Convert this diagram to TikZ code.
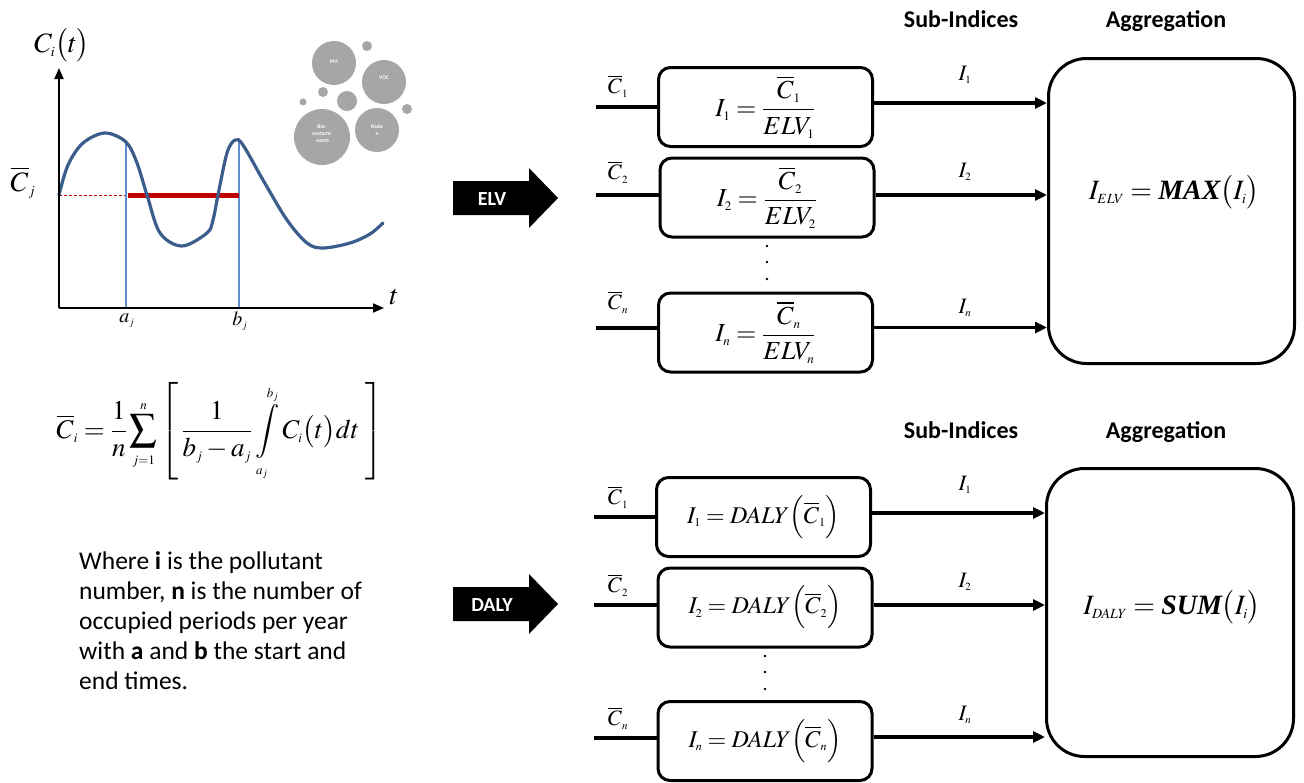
\documentclass[tikz,border=0pt]{standalone}
\usepackage{mathptmx}
\usepackage[no-math]{fontspec}
\setmainfont{Carlito}
\newfontfamily\timesfont{Liberation Serif}
\usetikzlibrary{arrows.meta}
\DeclareMathSizes{24}{24}{12}{9}
\DeclareMathSizes{22}{22}{11}{8}
\DeclareMathSizes{28}{28}{14}{10}
\DeclareMathSizes{20}{20}{10}{8}
\DeclareMathSizes{26}{26}{13}{10}
\DeclareMathSizes{27}{27}{13}{10}
\definecolor{bubgray}{RGB}{166,166,166}
\definecolor{curveblue}{RGB}{59,93,140}
\definecolor{lineblue}{RGB}{95,142,205}
\definecolor{darkred}{RGB}{192,0,0}
\newcommand{\bmaths}[1]{\mbox{\timesfont\bfseries\itshape #1}}
\tikzset{
  subbox/.style={draw, line width=3pt, rounded corners=12pt, minimum width=214pt, minimum height=79pt, inner sep=0pt},
  aggbox/.style={draw, line width=3pt, rounded corners=38pt, inner sep=0pt},
  conn/.style={line width=3.4pt},
  arr/.style={line width=3.4pt, -{Triangle[length=12pt,width=11pt]}},
  axis/.style={line width=1.8pt, -{Triangle[length=11pt,width=9pt]}},
  hdr/.style={font=\fontsize{24}{29}\selectfont\bfseries, anchor=base, inner sep=0pt},
  mth/.style={font=\fontsize{26}{30}\selectfont, inner sep=0pt},
  lbl/.style={font=\fontsize{22}{26}\selectfont, inner sep=0pt},
  big/.style={font=\fontsize{28}{32}\selectfont, inner sep=0pt},
  small/.style={font=\fontsize{20}{24}\selectfont, inner sep=0pt},
  bub/.style={fill=bubgray, draw=none},
  bubtxt/.style={font=\fontsize{5.5}{7}\selectfont\bfseries, text=white, align=center, inner sep=0pt},
  bigarrow/.style={fill=black, draw=none},
  arrtxt/.style={font=\fontsize{20}{24}\selectfont\bfseries, text=white, inner sep=0pt},
}
\begin{document}
\begin{tikzpicture}[x=1pt,y=-1pt]
\useasboundingbox (0,0) rectangle (1304,782);

% ---------- plot ----------
\coordinate (O) at (59,308);
\coordinate (Ytop) at (59,68);
\coordinate (Xend) at (384,308);
\draw[darkred, line width=0.9pt, dash pattern=on 3pt off 2pt] (59,195) -- (128,195);
\draw[lineblue, line width=1.1pt] (126,141) -- (126,308);
\draw[lineblue, line width=1.1pt] (239,141) -- (239,308);
\draw[darkred, line width=5pt] (128,195) -- (239,195);
\draw[curveblue, line width=3.2pt, line cap=round] plot[smooth, tension=0.55] coordinates {
 (59,195) (68,165) (83,143) (105,133) (126,142) (137,163) (147,195) (160,233) (182,246)
 (207,233) (213,220) (218,195) (227,153) (235,140) (243,145) (263,180) (287,220) (307,243)
 (323,248) (350,243) (370,234) (383,223)};
\draw[axis] (O) -- (Ytop);
\draw[axis] (O) -- (Xend);
\node[big] (cit) at (62,45) {$C_i\bigl(t\bigr)$};
\node[big] (cj) at (23,183) {$\overline{C}_j$};
\node[big] (tl) at (394,297) {$t$};
\node[small] (aj) at (127,321) {$a_j$};
\node[small] (bj) at (240,321) {$b_j$};

% ---------- bubbles ----------
\fill[bub] (334,63) circle (22);
\fill[bub] (384,82) circle (22);
\fill[bub] (322,137) circle (28);
\fill[bub] (377,130) circle (22);
\fill[bub] (367,46) circle (5);
\fill[bub] (323,92) circle (5);
\fill[bub] (347,101) circle (10);
\fill[bub] (303,102) circle (3.5);
\fill[bub] (407,109) circle (5);
\node[bubtxt] (pm) at (334,62) {PM};
\node[bubtxt] (voc) at (384,78) {VOC};
\node[bubtxt] (bio) at (322,134) {Bio-\\contami-\\-nants};
\node[bubtxt] (rad) at (377,130) {Rado\\n};

% ---------- formula ----------
\node[font=\fontsize{27}{31}\selectfont, inner sep=0pt] (cbar) at (220,432) {$\displaystyle \overline{C}_i = \frac{1}{n}\sum_{j=1}^{n}\left[\,\frac{1}{b_j-a_j}\int\limits_{a_j}^{b_j} C_i\bigl(t\bigr)dt\;\right]$};

\node[font=\fontsize{25.5}{30}\selectfont, align=left, anchor=north west, inner sep=0pt] (where) at (79,551)
 {Where \textbf{i} is the pollutant\\number, \textbf{n} is the number of\\occupied periods per year\\with \textbf{a} and \textbf{b} the start and\\end times.};

% ---------- big arrows ----------
\fill[bigarrow] (453,181) -- (529,181) -- (529,168) -- (558,198) -- (529,228) -- (529,215) -- (453,215) -- cycle;
\node[arrtxt] (elv) at (492,199) {ELV};
\fill[bigarrow] (453,587) -- (529,587) -- (529,574) -- (558,604) -- (529,634) -- (529,621) -- (453,621) -- cycle;
\node[arrtxt] (daly) at (492,605) {DALY};

% ---------- headers ----------
\node[hdr] (h1) at (961,27) {Sub-Indices};
\node[hdr] (h2) at (1166,27) {Aggregation};
\node[hdr] (h3) at (961,438) {Sub-Indices};
\node[hdr] (h4) at (1166,438) {Aggregation};

% ---------- top block ----------
\node[subbox] (b1) at (765.5,107) {};
\node[subbox] (b2) at (767,197.5) {};
\node[subbox] (bn) at (765.5,332.5) {};
\node[mth] (b1t) at (765.5,107) {$\displaystyle I_1 = \frac{\overline{C}_1}{ELV_1}$};
\node[mth] (b2t) at (767,197.5) {$\displaystyle I_2 = \frac{\overline{C}_2}{ELV_2}$};
\node[mth] (bnt) at (765.5,332.5) {$\displaystyle I_n = \frac{\overline{C}_n}{ELV_n}$};
\node[aggbox, minimum width=246pt, minimum height=305pt] (ag1) at (1171.5,211) {};
\node[font=\fontsize{28}{32}\selectfont, inner sep=0pt] (ag1t) at (1174,192) {$I_{ELV} = \bmaths{MAX}\bigl(I_i\bigr)$};

\coordinate (i1) at (596,107);
\coordinate (i2) at (596,195);
\coordinate (in) at (596,328);
\draw[conn] (i1) -- (i1 -| b1.west);
\draw[conn] (i2) -- (i2 -| b2.west);
\draw[conn] (in) -- (in -| bn.west);
\draw[arr] ([yshift=4pt]b1.east) -- ([yshift=4pt]b1.east -| ag1.west);
\draw[arr] ([yshift=2.5pt]b2.east) -- ([yshift=2.5pt]b2.east -| ag1.west);
\draw[arr] ([yshift=5pt]bn.east) -- ([yshift=5pt]bn.east -| ag1.west);
\node[lbl] (c1) at (618,86) {$\overline{C}_1$};
\node[lbl] (c2) at (618,172) {$\overline{C}_2$};
\node[lbl] (cn) at (618,302) {$\overline{C}_n$};
\node[lbl] (o1) at (965,75) {$I_1$};
\node[lbl] (o2) at (965,172) {$I_2$};
\node[lbl] (on) at (965,308) {$I_n$};
\fill (767,246) circle (1.4) (767,262) circle (1.4) (767,279) circle (1.4);

% ---------- bottom block ----------
\node[subbox] (d1) at (763.5,517) {};
\node[subbox] (d2) at (765,607.5) {};
\node[subbox] (dn) at (765,741) {};
\node[font=\fontsize{24}{28}\selectfont, inner sep=0pt] (d1t) at (763.5,517) {$I_1 = DALY\Bigl(\overline{C}_1\Bigr)$};
\node[font=\fontsize{24}{28}\selectfont, inner sep=0pt] (d2t) at (765,607.5) {$I_2 = DALY\Bigl(\overline{C}_2\Bigr)$};
\node[font=\fontsize{24}{28}\selectfont, inner sep=0pt] (dnt) at (765,741) {$I_n = DALY\Bigl(\overline{C}_n\Bigr)$};
\node[aggbox, minimum width=247pt, minimum height=288pt] (ag2) at (1170,612.5) {};
\node[font=\fontsize{28}{32}\selectfont, inner sep=0pt] (ag2t) at (1172,607) {$I_{DALY} = \bmaths{SUM}\bigl(I_i\bigr)$};

\coordinate (j1) at (594,517);
\coordinate (j2) at (594,605);
\coordinate (jn) at (594,738);
\draw[conn] (j1) -- (j1 -| d1.west);
\draw[conn] (j2) -- (j2 -| d2.west);
\draw[conn] (jn) -- (jn -| dn.west);
\draw[arr] ([yshift=4pt]d1.east) -- ([yshift=4pt]d1.east -| ag2.west);
\draw[arr] ([yshift=2.5pt]d2.east) -- ([yshift=2.5pt]d2.east -| ag2.west);
\draw[arr] ([yshift=4pt]dn.east) -- ([yshift=4pt]dn.east -| ag2.west);
\node[lbl] (e1) at (618,497) {$\overline{C}_1$};
\node[lbl] (e2) at (618,585) {$\overline{C}_2$};
\node[lbl] (en) at (618,718) {$\overline{C}_n$};
\node[lbl] (p1) at (965,485) {$I_1$};
\node[lbl] (p2) at (965,582) {$I_2$};
\node[lbl] (pn) at (965,715) {$I_n$};
\fill (765,656) circle (1.4) (765,672) circle (1.4) (765,689) circle (1.4);
\end{tikzpicture}
\end{document}
